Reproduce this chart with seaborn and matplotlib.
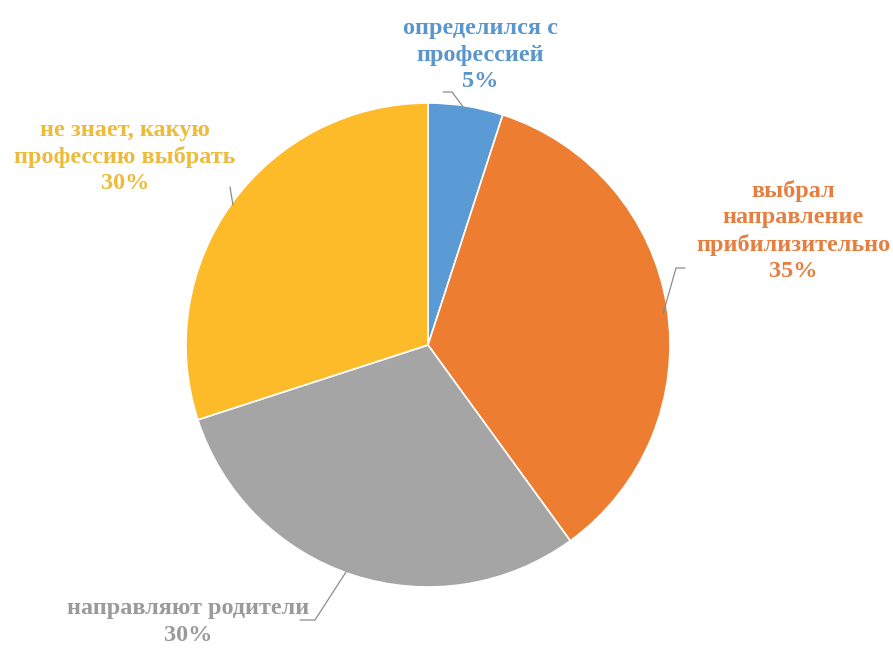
import matplotlib
matplotlib.use("Agg")
import matplotlib.pyplot as plt
import seaborn as sns

categories = ["определился с\nпрофессией", "выбрал\nнаправление\nприбилизительно",
              "направляют родители", "не знает, какую\nпрофессию выбрать"]
values = [5, 35, 30, 30]
colors = ["#5B9BD5", "#ED7D31", "#A5A5A5", "#FDBB2A"]
text_colors = ["#5A96CC", "#E57E3E", "#9A9A9A", "#EDBA3A"]

sns.set_theme(style="white")
plt.rcParams['font.family'] = ['Liberation Serif', 'DejaVu Serif']

W, H = 893, 653
fig = plt.figure(figsize=(W / 100, H / 100), dpi=100)
ax = fig.add_axes([0, 0, 1, 1])

cx, cy, r = 428, H - 345, 242
ax.pie(values, colors=colors, startangle=90, counterclock=False,
       center=(cx, cy), radius=r, frame=True,
       wedgeprops=dict(edgecolor='white', linewidth=1.2))
ax.set_xlim(0, W)
ax.set_ylim(0, H)
ax.set_aspect('equal')
ax.axis('off')

# label positions (pixel coords, top-left origin) and leader lines
label_pos = [(480, 55), (793, 231), (188, 622), (125, 157)]
leaders = [
    [(443, 92), (452, 92), (464, 108)],
    [(685, 268), (676, 268), (663, 314)],
    [(300, 620), (315, 620), (346, 572)],
    [(230, 187), (233, 205)],
]
for cat, val, (lx, ly), tc in zip(categories, values, label_pos, text_colors):
    ax.text(lx, H - ly, f"{cat}\n{val}%", ha='center', va='center',
            fontsize=17.5, fontweight='bold', color=tc, linespacing=1.32)
for pts in leaders:
    xs = [p[0] for p in pts]
    ys = [H - p[1] for p in pts]
    ax.plot(xs, ys, color="#8C8C8C", linewidth=0.9)

fig.savefig("out.png", dpi=100, facecolor='white')
